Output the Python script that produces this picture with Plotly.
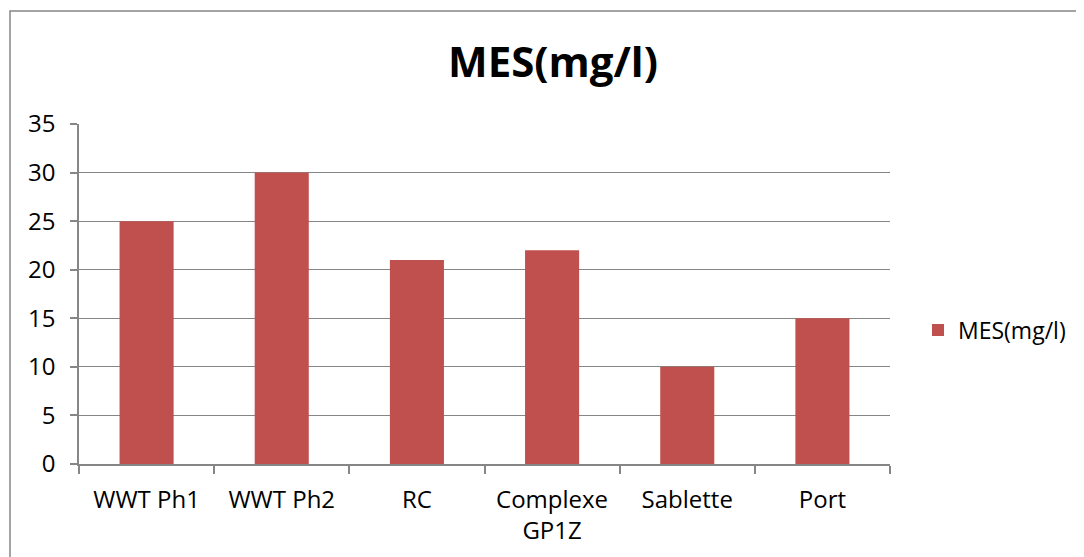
import plotly.graph_objects as go

categories = ["WWT Ph1", "WWT Ph2", "RC", "Complexe<br>GP1Z", "Sablette", "Port"]
values = [25, 30, 21, 22, 10, 15]
series_name = "MES(mg/l)"
y_ticks = [0, 5, 10, 15, 20, 25, 30, 35]

OFF = 8  # page body margin offset
W, H = 1084, 557
FW, FH = W - OFF, H - OFF
L, R, T, B = 79 - OFF, W - 890, 124 - OFF, H - 464
pw, ph = FW - L - R, FH - T - B

fig = go.Figure()
fig.add_trace(go.Bar(x=categories, y=values, name=series_name,
                     marker=dict(color="#C0504D", line=dict(width=0)), width=0.4))

fig.update_layout(
    width=FW, height=FH,
    margin=dict(l=L, r=R, t=T, b=B, autoexpand=False),
    paper_bgcolor="white", plot_bgcolor="white",
    font=dict(family="Open Sans, Liberation Sans, sans-serif", size=24, color="black"),
    title=dict(text="<b>MES(mg/l)</b>", x=(553 - OFF) / FW, xanchor="center",
               y=1 - (62 - OFF) / FH, yanchor="middle",
               font=dict(size=42, color="black")),
    showlegend=True,
    legend=dict(xref="container", yref="container",
                x=(918 - OFF) / FW, xanchor="left",
                y=1 - (330 - OFF) / FH, yanchor="middle",
                font=dict(size=23), bgcolor="rgba(0,0,0,0)", itemwidth=30),
    bargap=0.6,
)
fig.update_xaxes(showline=True, linecolor="#868686", linewidth=1.5,
                 ticks="outside", tickson="boundaries", ticklen=8, tickcolor="#868686",
                 tickwidth=1.5, showgrid=False, tickfont=dict(size=24),
                 ticklabelstandoff=13)
fig.update_yaxes(range=[0, 35], tickvals=y_ticks, showline=True, linecolor="#868686",
                 linewidth=1.5, ticks="outside", ticklen=7, tickcolor="#868686",
                 tickwidth=1.5, showgrid=True, gridcolor="#868686", gridwidth=1.2,
                 zeroline=False, tickfont=dict(size=24), ticklabelstandoff=10)

# outer chart frame
fig.add_shape(type="rect", xref="paper", yref="paper",
              x0=(10 - 79) / pw, x1=(W + 20 - 79) / pw,
              y0=-(H + 20 - 464) / ph, y1=1 + (124 - 11) / ph,
              line=dict(color="#868686", width=1.5), layer="below")

fig.write_html("out.html")
